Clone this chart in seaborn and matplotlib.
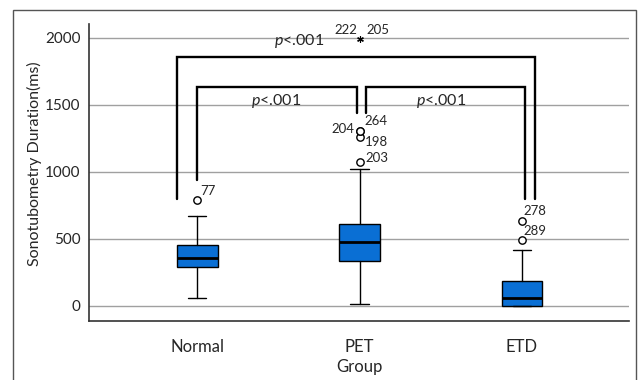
import matplotlib.pyplot as plt
import matplotlib.patches as mpatches
import seaborn as sns

# box summary per group
groups = ["Normal", "PET", "ETD"]
whislo = [62, 17, 0]
q1 = [293, 333, 0]
med = [360, 473, 57]
q3 = [455, 612, 187]
whishi = [672, 1020, 418]

# outliers (circles) and extremes (asterisks)
outlier_group = [0, 1, 1, 1, 1, 2, 2]
outlier_value = [791, 1075, 1264, 1304, 1304, 493, 634]
outlier_label = ["77", "203", "198", "204", "264", "289", "278"]
extreme_group = [1, 1]
extreme_value = [1990, 1990]
extreme_label = ["222", "205"]

# significance brackets
bracket_x0 = [-0.124, 0.0, 1.039]
bracket_x1 = [2.08, 0.982, 2.02]
bracket_top = [1858, 1634, 1634]
bracket_left_end = [798, 940, 1443]
bracket_right_end = [798, 1443, 798]
p_text_x = [0.627, 0.485, 1.50]
p_text_y = [1978, 1530, 1530]

sns.set_style("white")
plt.rcParams["font.family"] = ["Lato", "DejaVu Sans"]
plt.rcParams["mathtext.fontset"] = "custom"
plt.rcParams["mathtext.it"] = "Lato:italic"
plt.rcParams["mathtext.rm"] = "Lato"

fig = plt.figure(figsize=(6.38, 3.80), dpi=100)
ax = fig.add_axes([89 / 638, 59 / 380, 540 / 638, 297 / 380])

# outer frame of the figure
fig.patches.append(mpatches.Rectangle((13 / 638, -0.1), 623 / 638, 1.1 - 10 / 380,
                                      transform=fig.transFigure, fill=False,
                                      edgecolor="#555555", linewidth=1.0))

stats = []
for i, g in enumerate(groups):
    stats.append({"label": g, "whislo": whislo[i], "q1": q1[i], "med": med[i],
                  "q3": q3[i], "whishi": whishi[i], "fliers": []})

ax.yaxis.grid(True, color="#a0a0a0", linewidth=1.0)
ax.set_axisbelow(True)

ax.bxp(stats, positions=range(len(groups)), widths=0.25, capwidths=0.113,
       patch_artist=True, showfliers=False, manage_ticks=False,
       boxprops=dict(facecolor="#0a6fd4", edgecolor="black", linewidth=1.0),
       medianprops=dict(color="black", linewidth=2.0),
       whiskerprops=dict(color="black", linewidth=1.0),
       capprops=dict(color="black", linewidth=1.0))

sns.scatterplot(x=outlier_group, y=outlier_value, ax=ax, marker="o", s=28,
                facecolor="white", edgecolor="black", linewidth=1.0, zorder=4)
sns.scatterplot(x=extreme_group, y=extreme_value, ax=ax, marker=(6, 2, 0), s=16,
                color="black", edgecolor="black", linewidth=0.8, zorder=4)

label_offsets = {"77": (3, 9, "left"), "203": (6, 4, "left"), "198": (5, -5, "left"),
                 "204": (-5, 2, "right"), "264": (5, 10, "left"),
                 "289": (2, 9, "left"), "278": (2, 10, "left")}
for gx, v, lab in zip(outlier_group, outlier_value, outlier_label):
    dx, dy, ha = label_offsets[lab]
    ax.annotate(lab, (gx, v), xytext=(dx, dy), textcoords="offset pixels",
                ha=ha, va="center", fontsize=9.5)
for gx, v, lab, dx, ha in zip(extreme_group, extreme_value, extreme_label,
                              [-2, 7], ["right", "left"]):
    ax.annotate(lab, (gx, v), xytext=(dx, 9), textcoords="offset pixels",
                ha=ha, va="center", fontsize=9.5)

for i in range(len(bracket_x0)):
    ax.plot([bracket_x0[i], bracket_x0[i], bracket_x1[i], bracket_x1[i]],
            [bracket_left_end[i], bracket_top[i], bracket_top[i], bracket_right_end[i]],
            color="black", linewidth=1.7, solid_joinstyle="miter", zorder=5)
    ax.text(p_text_x[i], p_text_y[i], "$p$<.001", ha="center", va="center",
            fontsize=11.5, zorder=6)

ax.set_xlim(-0.667, 2.66)
ax.set_ylim(-113, 2104)
ax.set_yticks([0, 500, 1000, 1500, 2000])
ax.set_xticks(range(len(groups)))
ax.set_xticklabels(groups, fontsize=12)
ax.tick_params(axis="y", length=0, pad=6, labelsize=11)
ax.tick_params(axis="x", length=0, pad=13)
ax.set_xlabel("Group", fontsize=12, labelpad=3)
ax.set_ylabel("Sonotubometry Duration(ms)", fontsize=11.5)
ax.yaxis.set_label_coords(-0.087, 0.53)

for side in ["top", "right"]:
    ax.spines[side].set_visible(False)
for side in ["left", "bottom"]:
    ax.spines[side].set_color("#333333")
    ax.spines[side].set_linewidth(1.2)

fig.savefig("out.png", dpi=100)
